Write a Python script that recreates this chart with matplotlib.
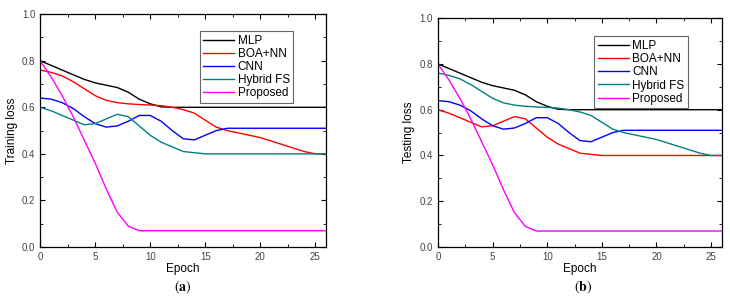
import numpy as np
import matplotlib.pyplot as plt

plt.rcParams['font.family'] = ['Liberation Sans', 'DejaVu Sans']
plt.rcParams['mathtext.fontset'] = 'stix'

epoch = np.arange(27)

mlp = [0.80, 0.78, 0.76, 0.74, 0.72, 0.705, 0.695, 0.685, 0.665, 0.635, 0.615, 0.602,
       0.60, 0.60, 0.60, 0.60, 0.60, 0.60, 0.60, 0.60, 0.60, 0.60, 0.60, 0.60, 0.60, 0.60, 0.60]
slow = [0.76, 0.75, 0.735, 0.71, 0.68, 0.65, 0.63, 0.62, 0.615, 0.612, 0.61, 0.607,
        0.60, 0.59, 0.575, 0.545, 0.515, 0.50, 0.49, 0.48, 0.47, 0.455, 0.44, 0.425, 0.41, 0.40, 0.40]
cnn = [0.64, 0.635, 0.62, 0.595, 0.56, 0.53, 0.515, 0.52, 0.54, 0.565, 0.565, 0.54,
       0.50, 0.465, 0.46, 0.48, 0.50, 0.51, 0.51, 0.51, 0.51, 0.51, 0.51, 0.51, 0.51, 0.51, 0.51]
bumpy = [0.60, 0.585, 0.565, 0.545, 0.525, 0.53, 0.55, 0.57, 0.56, 0.52, 0.48, 0.45,
         0.43, 0.41, 0.405, 0.40, 0.40, 0.40, 0.40, 0.40, 0.40, 0.40, 0.40, 0.40, 0.40, 0.40, 0.40]
proposed = [0.80, 0.73, 0.65, 0.56, 0.46, 0.36, 0.25, 0.15, 0.09, 0.07, 0.07, 0.07,
            0.07, 0.07, 0.07, 0.07, 0.07, 0.07, 0.07, 0.07, 0.07, 0.07, 0.07, 0.07, 0.07, 0.07, 0.07]

labels = ['MLP', 'BOA+NN', 'CNN', 'Hybrid FS', 'Proposed']
colors = ['black', '#ff0000', '#0000ff', '#008080', '#ff00ff']

# training: BOA+NN is the slow curve, testing: swapped with Hybrid FS
train = [mlp, slow, cnn, bumpy, proposed]
test = [mlp, bumpy, cnn, slow, proposed]

fig = plt.figure(figsize=(7.3, 3.08), dpi=100)
ax1 = fig.add_axes([0.055, 0.198, 0.392, 0.756])
ax2 = fig.add_axes([0.600, 0.198, 0.389, 0.743])

for ax, data, ylab, leg in [(ax1, train, 'Training loss', (0.885, 0.927)),
                            (ax2, test, 'Testing loss', (0.88, 0.92))]:
    for y, lab, c in zip(data, labels, colors):
        ax.plot(epoch, y, color=c, lw=1.0, label=lab)
    ax.set_xlim(0, 26)
    ax.set_ylim(0, 1.0)
    ax.set_xticks([0, 5, 10, 15, 20, 25])
    ax.set_yticks([0.0, 0.2, 0.4, 0.6, 0.8, 1.0])
    ax.set_xticks(np.arange(0, 26, 2.5), minor=True)
    ax.set_yticks(np.arange(0, 1.01, 0.1), minor=True)
    ax.tick_params(which='both', direction='in', top=True, right=True,
                   labelsize=7, labelcolor='#444444')
    ax.tick_params(which='major', length=3.5)
    ax.tick_params(which='minor', length=2)
    ax.set_xlabel('Epoch', fontsize=8.5, labelpad=1)
    ax.set_ylabel(ylab, fontsize=8.5, labelpad=3)
    for s in ax.spines.values():
        s.set_linewidth(0.9)
    lg = ax.legend(loc='upper right', bbox_to_anchor=leg, fontsize=8.5,
                   fancybox=False, framealpha=1, edgecolor='#666666',
                   handlelength=2.6, handletextpad=0.3, borderpad=0.3,
                   labelspacing=0.1, borderaxespad=0)
    lg.get_frame().set_linewidth(0.8)

fig.text(0.251, 0.055, r'$(\mathbf{a})$', fontsize=10, ha='center')
fig.text(0.799, 0.055, r'$(\mathbf{b})$', fontsize=10, ha='center')

fig.savefig('out.png', dpi=100)
